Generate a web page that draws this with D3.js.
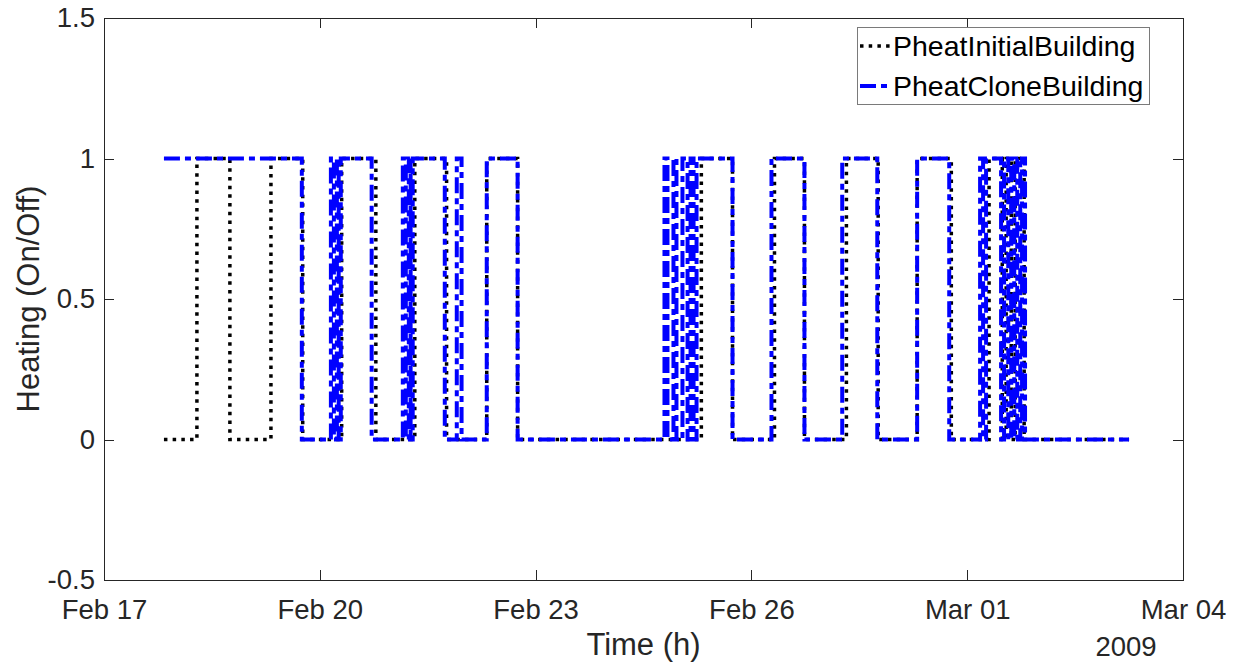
<!DOCTYPE html>
<html>
<head>
<meta charset="utf-8">
<script src="https://cdn.jsdelivr.net/npm/d3@7"></script>
<style>
  body { margin: 0; background: #fff; }
  text { font-family: "Liberation Sans", Arial, sans-serif; }
</style>
</head>
<body>
<div id="chart"></div>
<script>
"use strict";

// == DATA ==
// hours after 2009-02-17 00:00 where the state changes, and the state from then on
var initialHours = [20, 31, 42, 55.7, 66.3, 79.3, 90.7, 103.7, 114.3, 127.7, 138,
  199.3, 209.7, 223.7, 233.7, 247.7, 258.3, 271.3, 282.7, 295.3, 299.7, 301,
  302.7, 304, 307, 342];
var initialState = [0, 1, 0, 1, 0, 1, 0, 1, 0, 1, 0,
  1, 0, 1, 0, 1, 0, 1, 0, 1, 0, 1,
  0, 1, 0, 0];

var cloneHours = [20, 66, 75.7, 76.7, 77.7, 78.3, 79, 89.3, 99.7, 100.7, 101.7,
  102.3, 103, 113.7, 117.7, 119.3, 127.7, 138, 187, 188, 190, 191, 193,
  194.7, 195.7, 196.7, 197.7, 209.7, 222.7, 233.7, 246.3, 258, 271.3, 282, 292.3,
  293.3, 294.3, 299.3, 300.3, 301.7, 302.7, 303.7, 304.7, 305.7, 306.3, 307.3, 342];
var cloneState = [1, 0, 1, 0, 1, 0, 1, 0, 1, 0, 1,
  0, 1, 0, 1, 0, 1, 0, 1, 0, 1, 0, 1,
  0, 1, 0, 1, 0, 1, 0, 1, 0, 1, 0, 1,
  0, 1, 0, 1, 0, 1, 0, 1, 0, 1, 0, 0];

var xTickDates = ["2009-02-17", "2009-02-20", "2009-02-23", "2009-02-26", "2009-03-01", "2009-03-04"];
var yTickValues = [-0.5, 0, 0.5, 1, 1.5];
var seriesNames = ["PheatInitialBuilding", "PheatCloneBuilding"];

// == BOILERPLATE ==
var W = 1238, H = 664;
var margin = { top: 18, right: 55, bottom: 84, left: 104 },
    width = W - margin.left - margin.right,
    height = H - margin.top - margin.bottom;

var svg = d3.select("#chart")
  .append("svg")
  .attr("width", W)
  .attr("height", H);

var g = svg.append("g")
  .attr("transform", "translate(" + margin.left + "," + margin.top + ")");

var parse = d3.timeParse("%Y-%m-%d");
var t0 = parse("2009-02-17");
function hoursToDate(h) { return new Date(t0.getTime() + h * 3600 * 1000); }

var x = d3.scaleTime()
  .domain([parse("2009-02-17"), parse("2009-03-04")])
  .range([0, width]);
var y = d3.scaleLinear()
  .domain([-0.5, 1.5])
  .range([height, 0]);

var textColor = "#262626";

// == AXES ==
var xAxis = d3.axisBottom(x)
  .tickValues(xTickDates.map(parse))
  .tickFormat(d3.timeFormat("%b %d"))
  .tickSizeInner(-10).tickSizeOuter(0).tickPadding(19);
var yAxis = d3.axisLeft(y)
  .tickValues(yTickValues)
  .tickFormat(function (d) { return d; })
  .tickSizeInner(-10).tickSizeOuter(0).tickPadding(9);

function styleAxis(sel) {
  sel.selectAll("path").remove();
  sel.selectAll("line").attr("stroke", textColor).attr("shape-rendering", "crispEdges");
  sel.selectAll("text").attr("fill", textColor).style("font-size", "27.5px");
}

g.append("g").attr("transform", "translate(0," + height + ")").call(xAxis).call(styleAxis);
g.append("g").call(yAxis).call(styleAxis);
// mirrored ticks on top and right
g.append("g").call(d3.axisTop(x).tickValues(xTickDates.map(parse)).tickSize(-10).tickFormat(""))
  .call(styleAxis);
g.append("g").attr("transform", "translate(" + width + ",0)")
  .call(d3.axisRight(y).tickValues(yTickValues).tickSize(-10).tickFormat(""))
  .call(styleAxis);

g.append("rect")
  .attr("x", 0).attr("y", 0)
  .attr("width", width).attr("height", height)
  .attr("fill", "none")
  .attr("stroke", textColor)
  .attr("shape-rendering", "crispEdges");

// == LINES ==
var line = d3.line()
  .x(function (d) { return x(hoursToDate(d.h)); })
  .y(function (d) { return y(d.v); })
  .curve(d3.curveStepAfter);

var initialData = initialHours.map(function (h, i) { return { h: h, v: initialState[i] }; });
var cloneData = cloneHours.map(function (h, i) { return { h: h, v: cloneState[i] }; });

var styles = [
  { color: "#000000", width: 3.5, dash: "3.5,5.2" },
  { color: "#0000ff", width: 4, dash: "16,5,6,5" }
];

g.append("path")
  .datum(initialData)
  .attr("d", line)
  .attr("fill", "none")
  .attr("stroke", styles[0].color)
  .attr("stroke-width", styles[0].width)
  .attr("stroke-dasharray", styles[0].dash);

g.append("path")
  .datum(cloneData)
  .attr("d", line)
  .attr("fill", "none")
  .attr("stroke", styles[1].color)
  .attr("stroke-width", styles[1].width)
  .attr("stroke-dasharray", styles[1].dash);

// == LABELS ==
svg.append("text")
  .attr("x", margin.left + width / 2)
  .attr("y", 655)
  .attr("text-anchor", "middle")
  .attr("fill", textColor)
  .style("font-size", "31px")
  .text("Time (h)");

svg.append("text")
  .attr("x", 1126)
  .attr("y", 656)
  .attr("text-anchor", "middle")
  .attr("fill", textColor)
  .style("font-size", "27.5px")
  .text("2009");

svg.append("text")
  .attr("transform", "translate(39," + (margin.top + height / 2) + ") rotate(-90)")
  .attr("text-anchor", "middle")
  .attr("fill", textColor)
  .style("font-size", "31px")
  .text("Heating (On/Off)");

// == LEGEND ==
var legend = svg.append("g").attr("transform", "translate(857,27)");
legend.append("rect")
  .attr("width", 292).attr("height", 77)
  .attr("fill", "#fff")
  .attr("stroke", "#7a7a7a")
  .attr("shape-rendering", "crispEdges");

legend.selectAll(".item")
  .data(seriesNames)
  .enter()
  .append("g")
  .attr("transform", function (d, i) { return "translate(0," + (19 + i * 40) + ")"; })
  .each(function (d, i) {
    var item = d3.select(this);
    item.append("line")
      .attr("x1", 3).attr("x2", 33)
      .attr("y1", 0).attr("y2", 0)
      .attr("stroke", styles[i].color)
      .attr("stroke-width", styles[i].width)
      .attr("stroke-dasharray", styles[i].dash);
    item.append("text")
      .attr("x", 36)
      .attr("y", 10)
      .attr("fill", "#000")
      .style("font-size", "28.5px")
      .text(d);
  });
</script>
</body>
</html>
